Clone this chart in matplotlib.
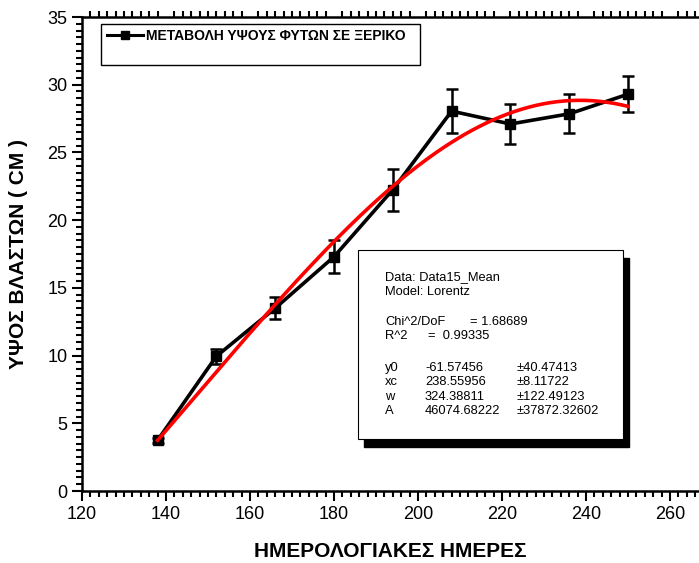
import numpy as np
import matplotlib
matplotlib.use("Agg")
import matplotlib.pyplot as plt
from matplotlib.patches import Rectangle
from matplotlib.lines import Line2D
from matplotlib.ticker import MultipleLocator

plt.rcParams['font.family'] = ['Liberation Sans', 'DejaVu Sans']

# mean shoot height per sampling day
days = [138, 152, 166, 180, 194, 208, 222, 236, 250]
height = [3.75, 9.95, 13.5, 17.3, 22.25, 28.05, 27.1, 27.85, 29.3]
err = [0.2, 0.55, 0.8, 1.2, 1.55, 1.6, 1.5, 1.45, 1.33]
series_label = 'ΜΕΤΑΒΟΛΗ ΥΨΟΥΣ ΦΥΤΩΝ ΣΕ ΞΕΡΙΚΟ'

# Lorentz fit parameters
y0, xc, w, A = -61.57456, 238.55956, 324.38811, 46074.68222

fig = plt.figure(figsize=(6.99, 5.63), dpi=100)
ax = fig.add_axes([82 / 699, 72 / 563, 617 / 699, 474 / 563])

ax.errorbar(days, height, yerr=err, color='black', lw=2.6, marker='s', ms=7.5,
            elinewidth=1.8, capsize=4.5, capthick=1.8, zorder=3)

xf = np.linspace(days[0], days[-1], 200)
yf = y0 + (2 * A / np.pi) * w / (4 * (xf - xc) ** 2 + w ** 2)
ax.plot(xf, yf, color='red', lw=2.6, zorder=4)

ax.set_xlim(120, 266.9)
ax.set_ylim(0, 35)
ax.xaxis.set_major_locator(MultipleLocator(20))
ax.xaxis.set_minor_locator(MultipleLocator(2))
ax.yaxis.set_major_locator(MultipleLocator(5))
ax.yaxis.set_minor_locator(MultipleLocator(0.5))
ax.tick_params(which='both', direction='out', width=1.5, labelsize=13)
ax.tick_params(which='major', length=7)
ax.tick_params(which='minor', length=4, top=True)
ax.spines['right'].set_visible(False)
for s in ['left', 'bottom', 'top']:
    ax.spines[s].set_linewidth(1.8)

ax.set_xlabel('ΗΜΕΡΟΛΟΓΙΑΚΕΣ ΗΜΕΡΕΣ', fontsize=15, fontweight='bold', labelpad=14)
ax.set_ylabel('ΥΨΟΣ ΒΛΑΣΤΩΝ ( CM )', fontsize=15, fontweight='bold', labelpad=14)

# legend frame
ax.add_patch(Rectangle((0.0308, 0.899), 0.517, 0.086, transform=ax.transAxes,
                       fill=False, ec='black', lw=1, zorder=5))
handle = Line2D([], [], color='black', lw=2.2, marker='s', ms=6)
ax.legend([handle], [series_label], loc='upper left',
          bbox_to_anchor=(0.040, 0.975), frameon=False, borderpad=0,
          handlelength=2.6, handletextpad=0.2, borderaxespad=0,
          prop={'weight': 'bold', 'size': 10})

# fit report box with shadow
px = lambda x: (x - 82) / 617
py = lambda y: (491 - y) / 474
bx, by = px(358), py(439)
bw, bh = px(623) - bx, py(250) - by
ax.add_patch(Rectangle((bx + 0.0105, by - 0.017), bw, bh, transform=ax.transAxes,
                       fc='black', ec='black', zorder=6))
ax.add_patch(Rectangle((bx, by), bw, bh, transform=ax.transAxes,
                       fc='white', ec='black', lw=0.8, zorder=7))

def row(ypx, *cols):
    for xpx, s in cols:
        ax.text(px(xpx), py(ypx), s, transform=ax.transAxes, fontsize=9.3,
                va='center', ha='left', zorder=8)

row(277, (385, 'Data: Data15_Mean'))
row(292, (385, 'Model: Lorentz'))
row(322, (385, 'Chi^2/DoF'), (470, '= 1.68689'))
row(336, (385, 'R^2'), (428, '=  0.99335'))
row(368, (385, 'y0'), (425, '-61.57456'), (517, '±40.47413'))
row(382, (385, 'xc'), (425, '238.55956'), (517, '±8.11722'))
row(397, (385, 'w'), (425, '324.38811'), (517, '±122.49123'))
row(411, (385, 'A'), (425, '46074.68222'), (517, '±37872.32602'))

fig.savefig('out.png', dpi=100)
